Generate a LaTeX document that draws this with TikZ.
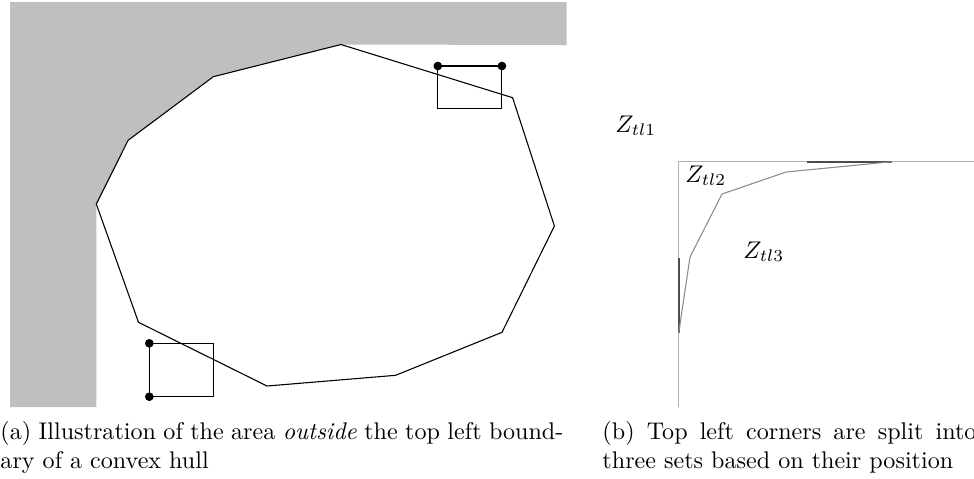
\documentclass[tikz,border=0pt]{standalone}
\usepackage{amsmath}
\usepackage{tikz}

\begin{document}
\begin{tikzpicture}[x=0.415pt,y=-0.415pt,
  hull/.style={draw=black,line width=0.45pt},
  corner/.style={fill=black},
  guide/.style={draw=black!30,line width=0.45pt},
  edge/.style={draw=black!70,line width=1pt}]
\useasboundingbox (0,0) rectangle (974,478);
% left panel: area outside the top left boundary
\coordinate (h0) at (341,44.5);
\coordinate (h1) at (512.6,97.7);
\coordinate (h2) at (554.4,226);
\coordinate (h3) at (502,332.3);
\coordinate (h4) at (395.6,375.3);
\coordinate (h5) at (267,386);
\coordinate (h6) at (138.5,322.3);
\coordinate (h7) at (96.3,204);
\coordinate (h8) at (128.1,140.3);
\coordinate (h9) at (213.3,76.7);
\fill[black!25] (10,2) -- (566.5,2) -- (566.5,45) -- (h0) -- (h9) -- (h8) -- (h7) -- (96.3,407) -- (10,407) -- cycle;
\draw[hull] (h0) -- (h1) -- (h2) -- (h3) -- (h4) -- (h5) -- (h6) -- (h7) -- (h8) -- (h9) -- cycle;
\draw[hull] (437.8,66) rectangle (501.9,108.3);
\draw[hull] (149.3,343.3) rectangle (213.3,396.7);
\fill[corner] (437.8,66) circle[radius=1.8pt];
\fill[corner] (501.9,66) circle[radius=1.8pt];
\fill[corner] (149.3,343.3) circle[radius=1.8pt];
\fill[corner] (149.3,396.7) circle[radius=1.8pt];
% right panel: three sets of top left corners
\draw[guide] (678.7,406.7) -- (678.7,161.7) -- (990,161.7);
\draw[edge] (678.7,258) -- (678.7,333);
\draw[edge] (807,161.7) -- (892,161.7);
\draw[draw=black!45,line width=0.45pt] (678.7,333) -- (690,257) -- (722,194) -- (786,172) -- (892,161.7);
\node[anchor=base west,inner sep=0pt] (z1) at (615,132) {$Z_{tl1}$};
\node[anchor=base west,inner sep=0pt] (z2) at (685,182) {$Z_{tl2}$};
\node[anchor=base west,inner sep=0pt] (z3) at (743,258) {$Z_{tl3}$};
% captions
\node[anchor=base west,inner sep=0pt,align=left] (ca) at (0,468) {\makebox[233.6pt][s]{(a) Illustration of the area \emph{outside} the top left bound-}\\ary of a convex hull};
\node[anchor=base west,inner sep=0pt,align=left] (cb) at (602,468) {\makebox[155.2pt][s]{(b) Top left corners are split into}\\three sets based on their position};
\end{tikzpicture}
\end{document}
